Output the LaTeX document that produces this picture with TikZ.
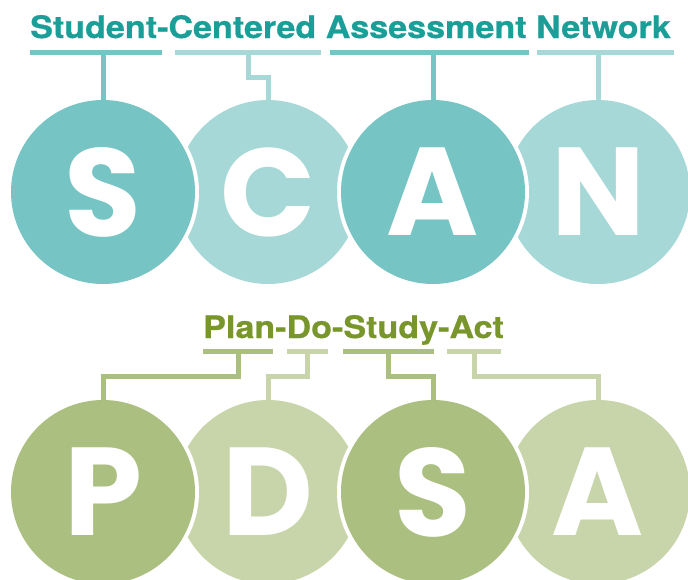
\documentclass[tikz,border=0pt]{standalone}
\usepackage{fontspec}
\newfontfamily\titlefont[FakeStretch=1.1, FakeBold=0.6]{TeX Gyre Heros}
\newfontfamily\letterfont{Poppins}
\usepackage{tikz}

\definecolor{scanText}{RGB}{27,158,152}
\definecolor{scanMid}{RGB}{119,196,196}
\definecolor{scanLight}{RGB}{165,216,214}
\definecolor{pdsaText}{RGB}{120,150,44}
\definecolor{pdsaMid}{RGB}{171,191,128}
\definecolor{pdsaLight}{RGB}{200,213,170}

\begin{document}
\begin{tikzpicture}[
  x=1pt, y=-1pt,
  title/.style={font=\titlefont\bfseries\fontsize{31}{31}\selectfont, anchor=base west, inner sep=0pt},
  ball/.style={circle, minimum size=184pt, inner sep=0pt, outer sep=0pt, text=white,
    font=\letterfont\bfseries\fontsize{125}{125}\selectfont},
  ringball/.style={ball, preaction={draw=white, line width=8pt}},
  bar/.style={inner sep=0pt, minimum height=5pt},
  link/.style={line width=5pt},
]
\useasboundingbox (0,0) rectangle (688,579);

% ---------- rows ----------
\def\rowA{192}   % SCAN circles
\def\rowB{492}   % PDSA circles

% =====================================================
% SCAN
% =====================================================
\node[title, text=scanText] (scanTitle) at (30,38) {Student-Centered Assessment Network};

\node[bar, fill=scanMid,   minimum width=132pt] (barS) at (96,52.5)    {};
\node[bar, fill=scanLight, minimum width=146pt] (barC) at (248,52.5)   {};
\node[bar, fill=scanMid,   minimum width=199pt] (barA) at (429.5,52.5) {};
\node[bar, fill=scanLight, minimum width=137pt] (barN) at (605.5,52.5) {};

% light circles first, dark ones sit on top with a white rim
\node[ball, fill=scanLight] (circC) at (268,\rowA) {C};
\node[ball, fill=scanLight] (circN) at (598,\rowA) {N};
\node[ringball, fill=scanMid] (circS) at (103,\rowA) {S};
\node[ringball, fill=scanMid] (circA) at (433,\rowA) {A};

\draw[link, scanMid]   (circS.north) -- (circS.north |- barS.south);
\draw[link, scanLight] (barC.south) -- ++(0,22.5) -| (circC.north);
\draw[link, scanMid]   (circA.north) -- (circA.north |- barA.south);
\draw[link, scanLight] (circN.north) -- (circN.north |- barN.south);

% =====================================================
% PDSA
% =====================================================
\node[title, text=pdsaText] (pdsaTitle) at (203,338) {Plan-Do-Study-Act};

\node[bar, fill=pdsaMid,   minimum width=70pt] (barP)  at (238,351.5)   {};
\node[bar, fill=pdsaLight, minimum width=41pt] (barD)  at (307.5,351.5) {};
\node[bar, fill=pdsaMid,   minimum width=91pt] (barSt) at (388.5,351.5) {};
\node[bar, fill=pdsaLight, minimum width=54pt] (barAc) at (474,351.5)   {};

\node[ball, fill=pdsaLight] (circD)  at (268,\rowB) {D};
\node[ball, fill=pdsaLight] (circAc) at (598,\rowB) {A};
\node[ringball, fill=pdsaMid] (circP)  at (103,\rowB) {P};
\node[ringball, fill=pdsaMid] (circSt) at (433,\rowB) {S};

% elbow links: down from the bar, across, down into the circle
\draw[link, pdsaMid]   (barP.south)  -- ++(0,22.5) -| (circP.north);
\draw[link, pdsaLight] (barD.south)  -- ++(0,22.5) -| (circD.north);
\draw[link, pdsaMid]   (barSt.south) -- ++(0,22.5) -| (circSt.north);
\draw[link, pdsaLight] (barAc.south) -- ++(0,22.5) -| (circAc.north);

\end{tikzpicture}
\end{document}
